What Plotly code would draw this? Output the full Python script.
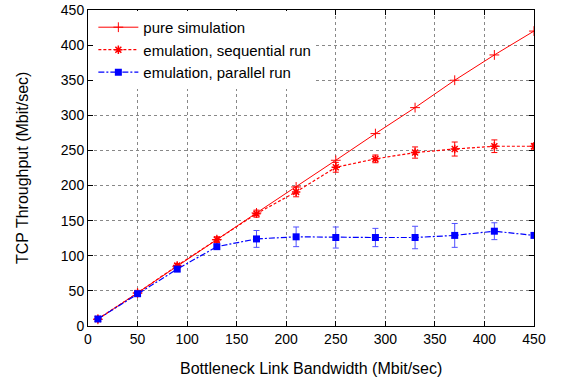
import plotly.graph_objects as go

bandwidth = [10, 50, 90, 130, 170, 210, 250, 290, 330, 370, 410, 450]
pure_sim = [9.5, 47, 85, 123, 161, 198, 236, 274, 311, 350, 386, 420]
seq_emu = [10, 47, 86, 123, 160, 191, 226, 238, 247, 252, 256, 256]
seq_err = [1, 2, 3, 4, 5, 7, 7, 5.5, 8, 10, 9, 4]
par_emu = [10, 46, 81, 113, 124, 127, 126, 126, 126, 129, 135, 129]
par_err = [1, 2, 3, 3, 12, 14, 15, 13, 16, 17, 12, 3]

x_ticks = [0, 50, 100, 150, 200, 250, 300, 350, 400, 450]
y_ticks = [0, 50, 100, 150, 200, 250, 300, 350, 400, 450]

x_title = "Bottleneck Link Bandwidth (Mbit/sec)"
y_title = "TCP Throughput (Mbit/sec)"

RED = "#ff0000"
BLUE = "#0000ff"
FONT = "Liberation Sans"

fig = go.Figure()
fig.add_trace(go.Scatter(
    x=bandwidth, y=pure_sim, mode="lines+markers", name="pure simulation",
    line=dict(color=RED, width=1),
    marker=dict(symbol="cross-thin-open", size=7, line=dict(color=RED, width=1)),
))
fig.add_trace(go.Scatter(
    x=bandwidth, y=seq_emu, mode="lines+markers", name="emulation, sequential run",
    line=dict(color=RED, width=1.2, dash="3px,2px"),
    marker=dict(symbol="asterisk-open", size=7, line=dict(color=RED, width=1.5)),
    error_y=dict(type="data", array=seq_err, color=RED, thickness=1, width=3),
))
fig.add_trace(go.Scatter(
    x=bandwidth, y=par_emu, mode="lines+markers", name="emulation, parallel run",
    line=dict(color=BLUE, width=1.2, dash="6px,2px,2px,2px"),
    marker=dict(symbol="square", size=7, color=BLUE),
    error_y=dict(type="data", array=par_err, color="#5050ff", thickness=1, width=3),
))

axis_common = dict(
    showline=True, linecolor="black", linewidth=1, mirror="ticks",
    ticks="inside", ticklen=5, tickcolor="black",
    showgrid=True, gridcolor="#888888", griddash="dot", gridwidth=1,
    zeroline=False, automargin=False, ticklabeloverflow="allow",
    tickfont=dict(family=FONT, size=14, color="black"),
)
fig.update_xaxes(range=[0, 450], tickvals=x_ticks, **axis_common)
fig.update_yaxes(range=[0, 450], tickvals=y_ticks, **axis_common)

fig.add_annotation(text=x_title, xref="paper", yref="paper", x=0.5, y=-0.133,
                   xanchor="center", yanchor="middle", showarrow=False,
                   font=dict(family=FONT, size=16, color="black"))
fig.add_annotation(text=y_title, xref="paper", yref="paper", x=-0.148, y=0.5,
                   xanchor="center", yanchor="middle", showarrow=False, textangle=-90,
                   font=dict(family=FONT, size=16, color="black"))

fig.update_layout(
    width=565, height=381,
    margin=dict(l=88, r=31, t=10, b=55),
    paper_bgcolor="white", plot_bgcolor="white",
    showlegend=True,
    legend=dict(x=0.012, y=0.997, xanchor="left", yanchor="top",
                bgcolor="white", borderwidth=0,
                font=dict(family=FONT, size=15, color="black"),
                tracegroupgap=0, itemwidth=40),
    font=dict(family=FONT),
)

# remove the browser's default 8px body margin so the figure fills the window
fig.write_html("out.html", config={"displayModeBar": False},
               post_script="document.body.style.margin='0';")
